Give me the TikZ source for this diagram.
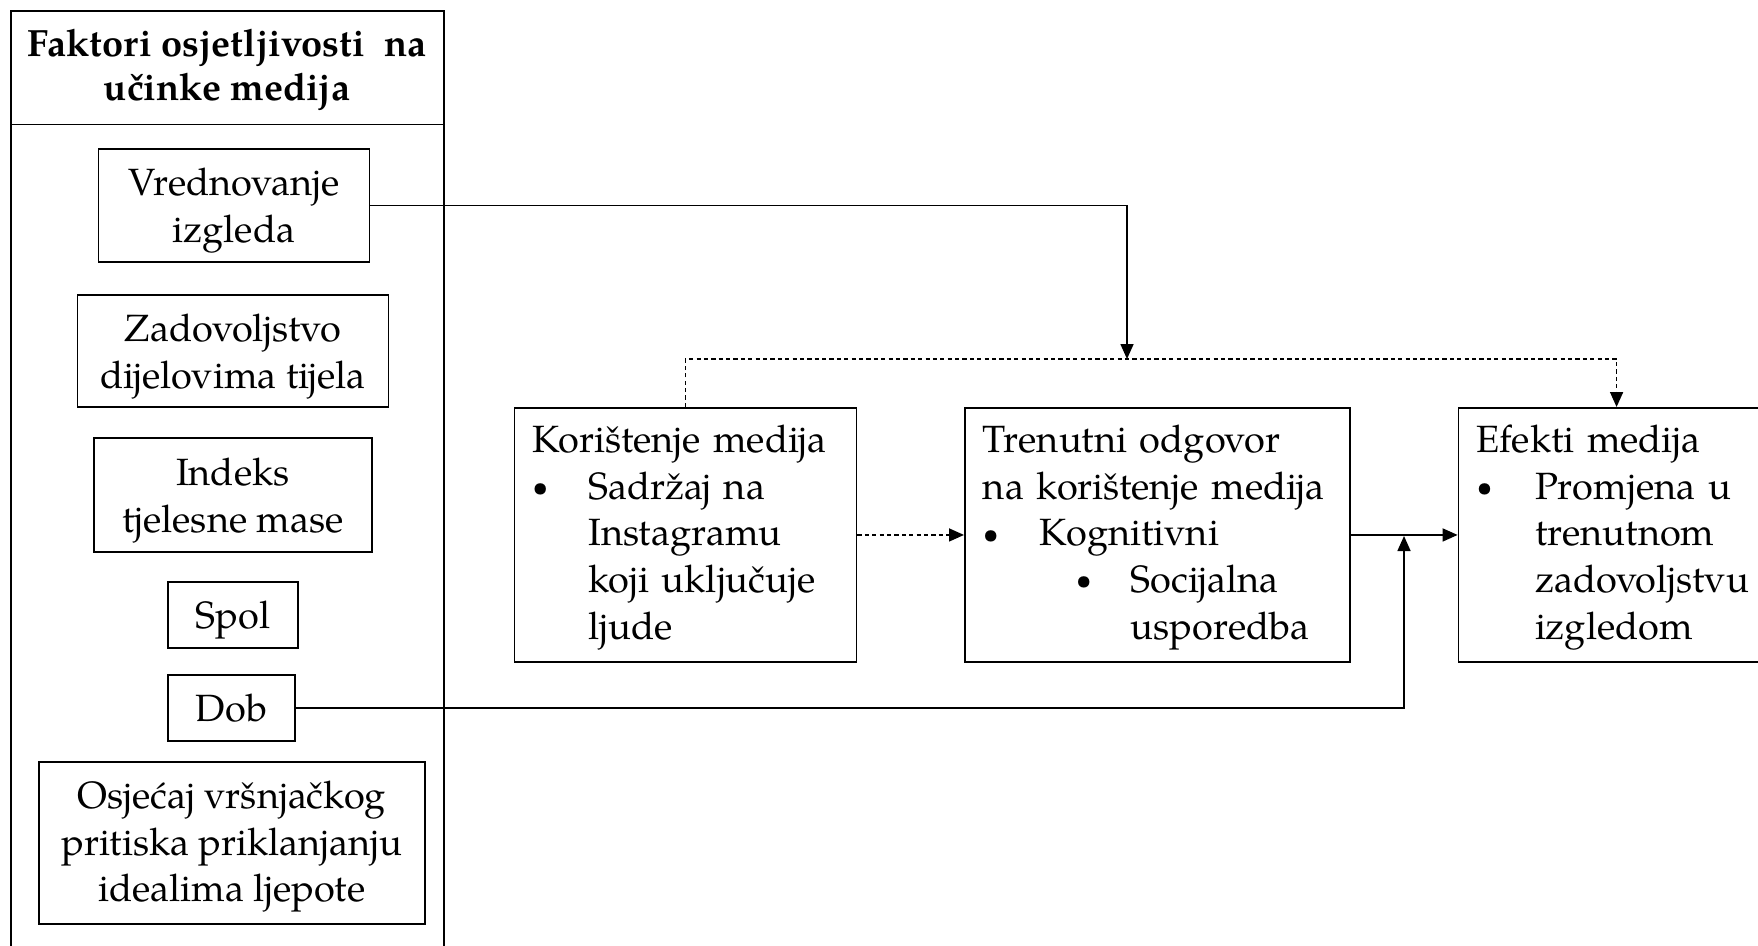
\documentclass[tikz,border=0pt]{standalone}
\usepackage{fontspec}
\usepackage{graphicx}
\setmainfont{texgyrepagella}[Extension=.otf, UprightFont=*-regular, BoldFont=*-bold]
\usetikzlibrary{arrows.meta}
\newcommand\bul[1]{\makebox[#1][l]{\raisebox{0.8pt}{\scalebox{0.75}{\textbullet}}}}
\tikzset{
  factor/.style={draw, line width=0.5pt, align=center, inner sep=0pt, text depth=0pt},
  stage/.style={draw, line width=0.5pt, align=left, anchor=north west,
    inner xsep=0.18cm, inner ysep=0pt, text depth=54.8pt, minimum height=2.54cm},
  link/.style={line width=0.45pt, -{Triangle[length=1.5mm,width=1.3mm]}},
  weak/.style={link, dash pattern=on 1.2pt off 0.9pt}
}
\begin{document}
\begin{tikzpicture}[x=0.01cm, y=-0.01cm, font=\fontsize{10.8}{13.3}\selectfont]
  \useasboundingbox (0,0) rectangle (1758,945);
  \clip (0,0) rectangle (1758,945);

  \draw[line width=0.5pt] (10.7,11) rectangle (444,990);
  \draw[line width=0.5pt] (10.7,124.5) -- (444,124.5);
  \node[align=center, font=\fontsize{10.8}{12.5}\selectfont\bfseries] (head) at (227,70.3)
    {Faktori osjetljivosti~ na\\učinke medija};

  \node[factor, minimum width=2.71cm, minimum height=1.13cm] (vred) at (234,205.5) {Vrednovanje\\izgleda};
  \node[factor, minimum width=3.11cm, minimum height=1.12cm] (zad) at (233,351) {Zadovoljstvo\\dijelovima tijela};
  \node[factor, minimum width=2.78cm, minimum height=1.14cm] (bmi) at (233,495) {Indeks\\tjelesne mase};
  \node[factor, minimum width=1.30cm, minimum height=0.66cm] (spol) at (233,615) {Spol};
  \node[factor, minimum width=1.27cm, minimum height=0.66cm] (dob) at (231.5,708) {Dob};
  \node[factor, minimum width=3.86cm, minimum height=1.62cm, text depth=1pt] (peer) at (232,843)
    {Osjećaj vršnjačkog\\pritiska priklanjanju\\idealima ljepote};

  \node[stage, text width=3.06cm] (use) at (513.5,407)
    {Korištenje medija\\\bul{0.56cm}Sadržaj na\\\hspace*{0.56cm}Instagramu\\
     \hspace*{0.56cm}koji uključuje\\\hspace*{0.56cm}ljude};
  \node[stage, text width=3.49cm] (resp) at (964,407)
    {Trenutni odgovor\\na korištenje medija\\\bul{0.57cm}Kognitivni\\
     \hspace*{0.93cm}\bul{0.55cm}Socijalna\\\hspace*{1.48cm}usporedba};
  \node[stage, text width=2.8cm] (eff) at (1457.6,407)
    {Efekti medija\\\bul{0.585cm}Promjena u\\\hspace*{0.585cm}trenutnom\\
     \hspace*{0.585cm}zadovoljstvu\\\hspace*{0.585cm}izgledom};

  \coordinate (meet) at (1127,359);
  \coordinate (merge) at (1404,536);

  \draw[link] (vred.east) -| (meet);
  \draw[weak] (use.north) |- (meet) -| (eff.north);
  \draw[weak] (use.east) -- (resp.west);
  \draw[link] (resp.east) -- (eff.west);
  \draw[link] (dob.east) -| (merge);
\end{tikzpicture}
\end{document}
